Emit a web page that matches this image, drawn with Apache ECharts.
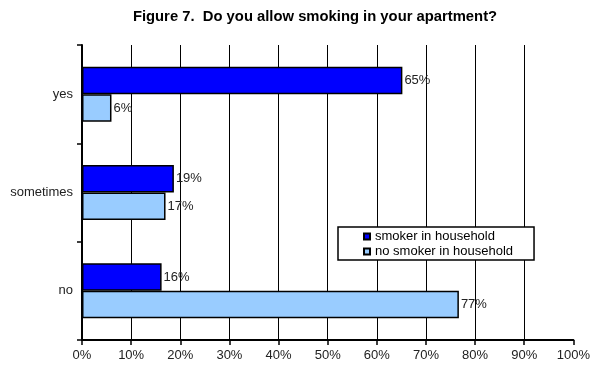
<!DOCTYPE html>
<html>
<head>
<meta charset="utf-8">
<style>
  html, body { margin: 0; padding: 0; background: #fff; }
  #chart { width: 593px; height: 365px; }
</style>
<script src="https://cdn.jsdelivr.net/npm/echarts@6/dist/echarts.min.js"></script>
</head>
<body>
<div id="chart"></div>
<script>
// Survey answers, listed top to bottom
const categories = ['yes', 'sometimes', 'no'];
const seriesNames = ['smoker in household', 'no smoker in household'];
// Share of respondents (%)
const smokerValues = [65.2, 18.7, 16.2];
const noSmokerValues = [6.0, 17.0, 76.7];
const xTicks = [0, 10, 20, 30, 40, 50, 60, 70, 80, 90, 100];

const FONT = 'Liberation Sans, Arial, sans-serif';
const chart = echarts.init(document.getElementById('chart'), null, { renderer: 'canvas' });

const labelStyle = {
  show: true,
  position: 'right',
  distance: 2,
  color: '#222',
  fontFamily: FONT,
  fontSize: 13,
  formatter: p => Math.round(p.value) + '%'
};

chart.setOption({
  animation: false,
  backgroundColor: '#ffffff',
  title: {
    text: 'Figure 7.  Do you allow smoking in your apartment?',
    left: 310,
    top: 4,
    textAlign: 'center',
    textStyle: { fontFamily: FONT, fontSize: 14.8, fontWeight: 'bold', color: '#000' }
  },
  legend: {
    data: seriesNames,
    orient: 'vertical',
    left: 338,
    top: 227,
    icon: 'rect',
    itemWidth: 6,
    itemHeight: 6,
    itemGap: 2,
    padding: [3, 21, 2, 25],
    backgroundColor: '#fff',
    borderColor: '#000',
    borderWidth: 1.5,
    textStyle: { fontFamily: FONT, fontSize: 13, color: '#000' }
  },
  grid: { left: 82, right: 18, top: 45, bottom: 25, containLabel: false },
  xAxis: {
    type: 'value',
    min: xTicks[0],
    max: xTicks[xTicks.length - 1],
    interval: 10,
    axisLine: { show: true, lineStyle: { color: '#000', width: 2 } },
    axisTick: { show: true, length: 5, lineStyle: { color: '#000', width: 1.5 } },
    axisLabel: {
      fontFamily: FONT, fontSize: 13, color: '#222', margin: 9,
      formatter: v => v + '%'
    },
    splitLine: { show: true, showMinLine: false, showMaxLine: false, lineStyle: { color: '#000', width: 1 } }
  },
  yAxis: {
    type: 'category',
    data: categories,
    inverse: true,
    axisLine: { show: true, lineStyle: { color: '#000', width: 2 } },
    axisTick: { show: true, length: 5, lineStyle: { color: '#000', width: 1.5 } },
    axisLabel: { fontFamily: FONT, fontSize: 13, color: '#222', margin: 9 }
  },
  series: [
    {
      name: seriesNames[0],
      type: 'bar',
      data: smokerValues,
      barGap: '0%',
      barCategoryGap: '44%',
      itemStyle: { color: '#0000ff', borderColor: '#000', borderWidth: 1.5 },
      label: labelStyle
    },
    {
      name: seriesNames[1],
      type: 'bar',
      data: noSmokerValues,
      barGap: '0%',
      barCategoryGap: '44%',
      itemStyle: { color: '#99ccff', borderColor: '#000', borderWidth: 1.5 },
      label: labelStyle
    }
  ]
});
</script>
</body>
</html>
